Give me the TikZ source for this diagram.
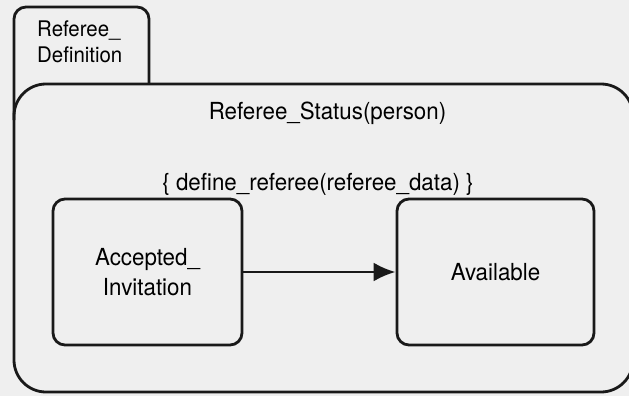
\documentclass[tikz,border=0pt]{standalone}
\usepackage{fontspec}
\setmainfont{TeX Gyre Heros}[FakeStretch=0.95]
\usetikzlibrary{arrows.meta}

\definecolor{paper}{RGB}{239,239,239}
\definecolor{ink}{RGB}{25,25,25}

\tikzset{
  outline/.style={draw=ink, line width=2.8pt},
  superstate/.style={outline, rectangle, rounded corners=32pt, inner sep=0pt},
  substate/.style={outline, rectangle, rounded corners=12pt, inner sep=0pt,
    align=center, font=\fontsize{23.5}{30}\selectfont},
  label/.style={inner sep=0pt, anchor=base, font=\fontsize{23.5}{30}\selectfont},
  tablabel/.style={inner sep=0pt, anchor=base west, align=left,
    font=\fontsize{21.5}{26.5}\selectfont},
  transition/.style={draw=ink, line width=2.8pt, -{Latex[length=22pt,width=19pt]}}
}

\begin{document}
\begin{tikzpicture}[x=1pt, y=-1pt]
  % canvas
  \fill[paper] (0,0) rectangle (629,396);
  \useasboundingbox (0,0) rectangle (629,396);

  % folder tab holding the definition name
  \draw[outline, rounded corners=12pt] (14,120) -- (14,7) -- (149,7) -- (149,84);
  \node[tablabel] (tabname) at (37,63) {Referee\_\\Definition};

  % enclosing state
  \node[superstate, minimum width=619pt, minimum height=308pt] (status) at (323.5,238) {};
  \node[label] (statusname) at (327.5,119) {Referee\_Status(person)};
  \node[label] (entry) at (318,190) {\{ define\_referee(referee\_data) \}};

  % sub-states
  \node[substate, minimum width=189pt, minimum height=146pt] (accepted) at (147.5,272)
    {Accepted\_\\Invitation};
  \node[substate, minimum width=197pt, minimum height=146pt] (available) at (495.5,272)
    {Available};

  % transition
  \draw[transition] (accepted.east) -- (available.west);
\end{tikzpicture}
\end{document}
